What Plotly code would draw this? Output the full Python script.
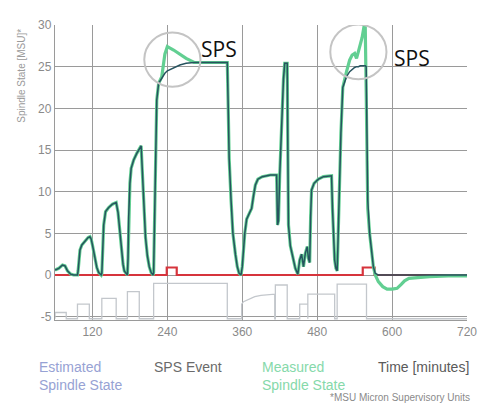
import plotly.graph_objects as go

# ---------------- data ----------------
time_min = [60, 66, 72, 76, 80, 85, 90, 96,
            97, 98.5, 100, 103, 108, 113, 116, 118, 120, 122, 124, 127, 130, 134,
            135, 136.5, 138, 141, 146, 152, 158, 161, 163, 165, 167, 169, 171, 174, 176,
            177, 178, 180, 182, 186, 191, 198, 199.5, 201, 203, 205, 208, 211, 214, 217,
            218, 219.5, 221, 223, 226, 231, 236, 240, 250, 260, 270, 283, 300, 320, 336,
            337.5, 339, 342, 345, 349, 352, 355, 358,
            360, 362, 364, 367, 371, 375, 378, 381, 385, 392, 405, 415,
            416.5, 418, 420, 423, 426, 428, 432, 433, 434, 437, 441, 445, 449,
            452, 455, 458, 461, 464, 466, 468, 469.5, 471, 475, 482, 490, 497, 503,
            504.5, 506, 508, 510, 512,
            513, 515, 518, 521, 524, 527, 532, 536, 540, 543, 546, 549, 552, 555, 557,
            558.5, 559.5, 561, 564, 567, 570, 573, 578, 585, 592, 600, 608, 615, 620,
            627, 640, 660, 690, 720]

measured = [0.6, 0.8, 1.2, 1.1, 0.5, 0.1, 0.0, 0.0,
            0.5, 2.0, 3.0, 3.6, 4.1, 4.5, 4.6, 4.3, 3.6, 2.7, 1.8, 0.9, 0.3, 0.0,
            0.2, 3.0, 6.0, 7.6, 8.1, 8.5, 8.7, 7.5, 5.8, 4.0, 2.5, 1.3, 0.5, 0.1, 0.0,
            2.0, 7.0, 11.0, 12.8, 13.8, 14.6, 15.5, 13.0, 10.0, 7.0, 4.5, 2.3, 1.0, 0.3, 0.0,
            0.3, 8, 16, 21, 23, 23.8, 26.5, 27.4, 27.0, 26.5, 26.0, 25.5, 25.5, 25.5, 25.5,
            20, 14, 9, 5, 2.5, 1.0, 0.2, 0.0,
            1.0, 3.0, 5.0, 6.7, 7.4, 8.0, 9.5, 10.8, 11.5, 11.8, 12.0, 12.0,
            6.0, 6.5, 12, 18, 23.5, 25.4, 25.4, 15, 6, 3.5, 2, 0.8, 0.1,
            1.8, 2.5, 1.0, 2.6, 3.4, 2.0, 1.5, 7, 10.2, 11.0, 11.5, 11.8, 11.9, 11.9,
            8, 4, 1.8, 0.8, 0.5,
            3, 10, 17, 22.5, 23.6, 24.4, 25.8, 26.4, 26.6, 26.0, 26.8, 27.5, 28.5, 29.8, 29.8,
            22, 12, 8, 5, 2.5, 1.0, 0.0, -0.8, -1.4, -1.7, -1.7, -1.6, -1.1, -0.7,
            -0.4, -0.3, -0.2, -0.1, -0.1]

estimated = [0.6, 0.8, 1.2, 1.1, 0.5, 0.1, 0.0, 0.0,
             0.5, 2.0, 3.0, 3.6, 4.1, 4.5, 4.6, 4.3, 3.6, 2.7, 1.8, 0.9, 0.3, 0.0,
             0.2, 3.0, 6.0, 7.6, 8.1, 8.5, 8.7, 7.5, 5.8, 4.0, 2.5, 1.3, 0.5, 0.1, 0.0,
             2.0, 7.0, 11.0, 12.8, 13.8, 14.6, 15.5, 13.0, 10.0, 7.0, 4.5, 2.3, 1.0, 0.3, 0.0,
             0.3, 8, 16, 21, 23, 23.6, 24.2, 24.5, 24.9, 25.2, 25.4, 25.5, 25.5, 25.5, 25.5,
             20, 14, 9, 5, 2.5, 1.0, 0.2, 0.0,
             1.0, 3.0, 5.0, 6.7, 7.4, 8.0, 9.5, 10.8, 11.5, 11.8, 12.0, 12.0,
             6.0, 6.5, 12, 18, 23.5, 25.4, 25.4, 15, 6, 3.5, 2, 0.8, 0.1,
             1.8, 2.5, 1.0, 2.6, 3.4, 2.0, 1.5, 7, 10.2, 11.0, 11.5, 11.8, 11.9, 11.9,
             8, 4, 1.8, 0.8, 0.5,
             3, 10, 17, 22.5, 23.2, 23.8, 24.4, 24.7, 24.9, 25.0, 25.0, 25.1, 25.1, 25.1, 25.1,
             25.0, 14, 9, 5, 2.5, 1.0, 0.2, 0.0, 0.0, 0.0, 0.0, 0.0, 0.0, 0.0,
             0.0, 0.0, 0.0, 0.0, 0.0]

event_t = [60, 239, 239, 255, 255, 553, 553, 572, 572, 720]
event_v = [0, 0, 0.9, 0.9, 0, 0, 0.9, 0.9, 0, 0]

box_start = [60, 96, 135, 176, 218, 413, 452, 465, 512]
box_end = [78, 115, 158, 195, 336, 432, 465, 508, 559]
box_level = [-4.5, -3.5, -2.8, -2.0, -1.0, -1.2, -3.5, -2.3, -1.1]
ramp_t = [359, 362, 370, 380, 390, 400, 412]
ramp_v = [-3.5, -3.2, -2.9, -2.6, -2.45, -2.35, -2.3]
box_base = -5.25

x_ticks = [120, 240, 360, 480, 600, 720]
y_ticks = [-5, 0, 5, 10, 15, 20, 25, 30]

# --------------- build process-step outline ---------------
gx, gy = [], []
segs = [(s, e, [s, e], [l, l]) for s, e, l in zip(box_start, box_end, box_level)]
segs.append((ramp_t[0], ramp_t[-1], ramp_t, ramp_v))
segs.sort(key=lambda s: s[0])
for s, e, tx, tv in segs:
    gx += [s] + list(tx) + [e]
    gy += [box_base] + list(tv) + [box_base]
gx.append(720)
gy.append(box_base)

FONT = "Liberation Sans"
fig = go.Figure()
fig.add_trace(go.Scatter(x=gx, y=gy, mode="lines",
                         line=dict(color="#c3c7cc", width=1.3), hoverinfo="skip"))
fig.add_trace(go.Scatter(x=event_t, y=event_v, mode="lines",
                         line=dict(color="#d6343c", width=2.2)))
fig.add_trace(go.Scatter(x=time_min, y=measured, mode="lines",
                         line=dict(color="#62cf92", width=3.2)))
fig.add_trace(go.Scatter(x=time_min, y=estimated, mode="lines",
                         line=dict(color="#27535f", width=1.5)))

# SPS circles
for x0, x1, y0, y1 in [(203, 293, 22.6, 29.1), (501, 591, 23.5, 30.05)]:
    fig.add_shape(type="circle", xref="x", yref="y", x0=x0, x1=x1, y0=y0, y1=y1,
                  line=dict(color="#c4c4c4", width=2))

annos = [
    dict(x=323, y=27.1, xref="x", yref="y", text="SPS", showarrow=False,
         font=dict(family="Open Sans", size=21, color="#111")),
    dict(x=632, y=26.0, xref="x", yref="y", text="SPS", showarrow=False,
         font=dict(family="Open Sans", size=21, color="#111")),
    dict(x=-0.08, y=0.828, xref="paper", yref="paper", text="Spindle State [MSU]*",
         textangle=-90, xanchor="center", yanchor="middle", showarrow=False,
         font=dict(family=FONT, size=10, color="#9a9a9a")),
    dict(x=-0.044, y=-0.124, xref="paper", yref="paper", xanchor="left", yanchor="top",
         align="left", text="Estimated<br>Spindle State", showarrow=False,
         font=dict(family=FONT, size=14, color="#97a2d4")),
    dict(x=0.235, y=-0.124, xref="paper", yref="paper", xanchor="left", yanchor="top",
         align="left", text="SPS Event", showarrow=False,
         font=dict(family=FONT, size=14, color="#6a6a6a")),
    dict(x=0.498, y=-0.124, xref="paper", yref="paper", xanchor="left", yanchor="top",
         align="left", text="Measured<br>Spindle State", showarrow=False,
         font=dict(family=FONT, size=14, color="#86d9aa")),
    dict(x=0.78, y=-0.124, xref="paper", yref="paper", xanchor="left", yanchor="top",
         align="left", text="Time [minutes]", showarrow=False,
         font=dict(family=FONT, size=14, color="#5a5a5a")),
    dict(x=1.012, y=-0.263, xref="paper", yref="paper", xanchor="right", yanchor="middle",
         text="*MSU Micron Supervisory Units", showarrow=False,
         font=dict(family=FONT, size=10, color="#8a8a8a")),
]
# the page body adds an 8 px offset; size the figure so the plot area lands
# where the reference has it
fig.update_layout(
    width=485, height=403,
    margin=dict(l=47, r=26, t=10, b=90.5),
    paper_bgcolor="white", plot_bgcolor="white",
    showlegend=False, annotations=annos,
    font=dict(family=FONT, size=12, color="#8a8a8a"),
)
fig.update_xaxes(range=[60, 720], tickvals=x_ticks, ticktext=[str(v) for v in x_ticks],
                 showgrid=True, gridcolor="#9a9a9a", gridwidth=1.3, zeroline=False,
                 showline=True, linecolor="#9a9a9a", linewidth=1.3, mirror=False,
                 tickfont=dict(size=12, color="#8a8a8a"))
fig.update_yaxes(range=[-5.4, 30], tickvals=y_ticks, ticktext=[str(v) for v in y_ticks],
                 showgrid=True, gridcolor="#9a9a9a", gridwidth=1.3, zeroline=False,
                 showline=True, linecolor="#9a9a9a", linewidth=1.3,
                 tickfont=dict(size=12, color="#8a8a8a"))
fig.write_html("out.html")
